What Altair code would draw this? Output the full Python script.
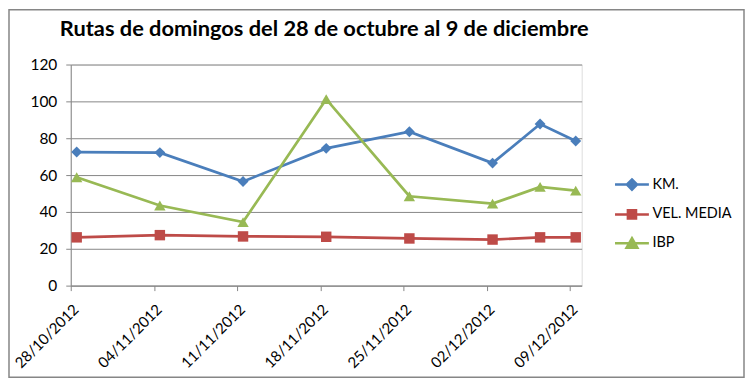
import altair as alt
import pandas as pd

# ---- data ----
fechas = ["2012-10-28", "2012-11-04", "2012-11-11", "2012-11-18",
          "2012-11-25", "2012-12-02", "2012-12-06", "2012-12-09"]
km = [72.5, 72.2, 56.5, 74.5, 83.5, 66.5, 87.7, 78.5]
vel_media = [26.2, 27.4, 26.7, 26.5, 25.6, 25.0, 26.2, 26.2]
ibp = [58.8, 43.5, 34.5, 101.2, 48.5, 44.5, 53.6, 51.6]

series = ["KM.", "VEL. MEDIA", "IBP"]
colores = ["#4A7EBB", "#BE4B48", "#98B954"]
formas = ["diamond", "square", "triangle-up"]
tamanos = [120, 110, 130]
# legend symbols: short line with the marker in its middle
formas_leyenda = [
    "M-1,0H1M0,-0.3L0.3,0L0,0.3L-0.3,0Z",
    "M-1,0H1M-0.24,-0.24H0.24V0.24H-0.24Z",
    "M-1,0H1M0,-0.3L0.32,0.26H-0.32Z",
]
ticks_x = ["2012-10-28", "2012-11-04", "2012-11-11", "2012-11-18",
           "2012-11-25", "2012-12-02", "2012-12-09"]
ticks_y = [0, 20, 40, 60, 80, 100, 120]
titulo = "Rutas de domingos del 28 de octubre al 9 de diciembre"

rows = []
for name, vals in zip(series, [km, vel_media, ibp]):
    for f, v in zip(fechas, vals):
        rows.append({"fecha": f + "T12:00:00Z", "serie": name, "valor": v})
df = pd.DataFrame(rows)


def dt(s):
    y, m, d = [int(p) for p in s.split("-")]
    return alt.DateTime(year=y, month=m, date=d, utc=True)


FONT = "Lato"
W, H = 513, 222
PL, PT, PR, PB = 63, 56, 164, 93

x_enc = alt.X(
    "fecha:T",
    scale=alt.Scale(type="utc", domain=[dt("2012-10-28"), dt("2012-12-10")]),
    axis=alt.Axis(
        values=[dt(t) for t in ticks_x],
        labelExpr="utcFormat(datum.value, '%d/%m/%Y')",
        labelAngle=-45, labelAlign="right", labelBaseline="top",
        labelPadding=11, labelOffset=0, title=None, grid=False,
        domainColor="#868686", tickColor="#868686", tickSize=5,
        labelFont=FONT, labelFontSize=15, labelColor="#000000",
    ),
)
y_enc = alt.Y(
    "valor:Q",
    scale=alt.Scale(domain=[0, 120], nice=False),
    axis=alt.Axis(
        values=ticks_y, title=None, grid=True, gridColor="#868686",
        domainColor="#868686", tickColor="#868686", tickSize=5,
        labelFont=FONT, labelFontSize=15.5, labelColor="#000000", labelPadding=9,
    ),
)
leg = alt.Legend(title=None, orient="none", legendX=545, legendY=102,
                 symbolSize=1156, symbolStrokeWidth=2.5,
                 labelFont=FONT, labelFontSize=14.5, labelColor="#000000",
                 rowPadding=1, padding=0, labelOffset=2, offset=0)
color_enc = alt.Color("serie:N", scale=alt.Scale(domain=series, range=colores), legend=leg)

base = alt.Chart(df)

lines = base.mark_line(strokeWidth=2.75).encode(x=x_enc, y=y_enc, color=color_enc)

point_layers = []
for name, forma, t in zip(series, formas, tamanos):
    point_layers.append(
        base.transform_filter(alt.datum.serie == name)
        .mark_point(filled=True, opacity=1, size=t, shape=forma)
        .encode(x=x_enc, y=y_enc, color=color_enc)
    )

legend_layer = base.mark_point(filled=True, opacity=1).encode(
    x=x_enc, y=y_enc, color=color_enc,
    shape=alt.Shape("serie:N", scale=alt.Scale(domain=series, range=formas_leyenda), legend=leg),
).transform_filter("false")

frame = alt.Chart(pd.DataFrame({"a": [0]})).mark_rect(
    fill="transparent", stroke="#868686", strokeWidth=1.5
).encode(
    x=alt.value(-PL + 1), x2=alt.value(W + PR - 1),
    y=alt.value(-PT + 1), y2=alt.value(H + PB - 1),
)

chart = alt.layer(frame, lines, *point_layers, legend_layer).properties(
    width=W, height=H,
    padding={"left": PL, "top": PT, "right": PR, "bottom": PB},
    autosize="none",
    title=alt.TitleParams(titulo, font=FONT, fontSize=21.9, fontWeight="bold",
                          anchor="middle", frame="group", baseline="alphabetic",
                          offset=-49, dx=-2, color="#000000"),
).configure_view(stroke=None).configure(background="white")

chart.save("out.html", embed_options={"renderer": "svg", "actions": False})
